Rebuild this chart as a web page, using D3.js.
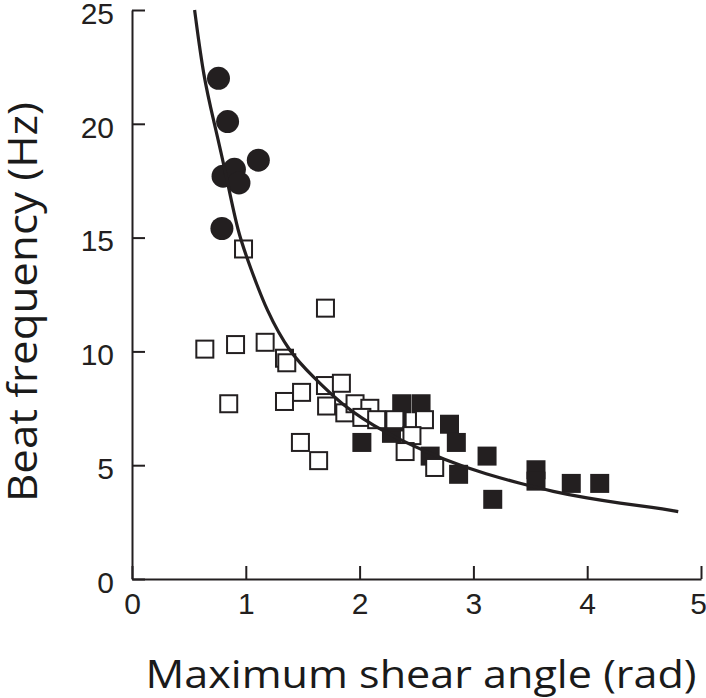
<!DOCTYPE html>
<html>
<head>
<meta charset="utf-8">
<script src="https://cdn.jsdelivr.net/npm/d3@7"></script>
<style>
  html, body { margin: 0; padding: 0; background: #fff; }
  svg { display: block; }
</style>
</head>
<body>
<script>
// values: [shear angle (rad), beat frequency (Hz)]
const filledCircles = [
    [0.76, 22.0], [0.84, 20.1], [1.11, 18.4], [0.80, 17.7],
    [0.90, 18.0], [0.94, 17.4], [0.79, 15.4]
];
const openSquares = [
    [0.98, 14.5], [1.70, 11.9], [0.64, 10.1], [0.91, 10.3], [1.17, 10.4],
    [1.34, 9.7], [1.36, 9.5], [0.85, 7.7], [1.34, 7.8], [1.49, 8.2],
    [1.48, 6.0], [1.64, 5.2], [1.70, 8.5], [1.84, 8.6], [1.71, 7.6],
    [1.87, 7.3], [1.96, 7.7], [2.09, 7.5], [2.02, 7.1], [2.15, 7.0],
    [2.31, 7.0], [2.57, 7.0], [2.46, 6.3], [2.40, 5.6], [2.66, 4.9]
];
const filledSquares = [
    [2.02, 6.0], [2.37, 7.7], [2.54, 7.7], [2.28, 6.4], [2.33, 6.9],
    [2.79, 6.8], [2.85, 6.0], [2.62, 5.4], [2.87, 4.6], [3.12, 5.4],
    [3.17, 3.5], [3.55, 4.8], [3.55, 4.3], [3.86, 4.2], [4.11, 4.2]
];
// fitted curve, points
const fitAngle = [0.55, 0.63, 0.72, 0.83, 0.93, 1.04, 1.18, 1.39, 1.59, 1.83, 2.2, 2.78, 3.12, 3.41, 3.7, 4.0, 4.29, 4.58, 4.8];
const fitFreq = [25.0, 22.0, 20.1, 17.7, 15.2, 13.7, 11.8, 9.9, 8.9, 7.7, 6.45, 5.15, 4.6, 4.2, 3.84, 3.55, 3.33, 3.15, 2.96];

const xTicks = [0, 1, 2, 3, 4, 5];
const yTicks = [0, 5, 10, 15, 20, 25];
const xTitle = "Maximum shear angle (rad)";
const yTitle = "Beat frequency (Hz)";

const width = 706;
const height = 698;
const ink = "#231f20";

const svg = d3.select("body")
    .append("svg")
    .attr("width", width)
    .attr("height", height);

const xScale = d3.scaleLinear().domain([0, 5]).range([132, 701]);
const yScale = d3.scaleLinear().domain([0, 25]).range([579, 10]);

// axes, ticks pointing inward
const xAxis = svg.append("g")
    .attr("transform", "translate(0," + yScale(0) + ")")
    .call(d3.axisBottom(xScale).tickValues(xTicks).tickFormat(d3.format("d"))
        .tickSizeInner(-13).tickSizeOuter(0).tickPadding(14));
const yAxis = svg.append("g")
    .attr("transform", "translate(" + xScale(0) + ",0)")
    .call(d3.axisLeft(yScale).tickValues(yTicks).tickFormat(d3.format("d"))
        .tickSizeInner(-13).tickSizeOuter(0).tickPadding(18));

[xAxis, yAxis].forEach(function (g) {
    g.select(".domain").attr("stroke", ink).attr("stroke-width", 2);
    g.selectAll(".tick line").attr("stroke", ink).attr("stroke-width", 2);
    g.selectAll(".tick text")
        .attr("fill", ink)
        .style("font-family", "'Liberation Sans', Arial, sans-serif")
        .style("font-size", "30px");
});
yAxis.selectAll(".tick text").attr("dy", "0.44em");
// keep the last x label inside the frame
xAxis.selectAll(".tick text").filter(function (d) { return d === 5; }).attr("x", -3);

// filled squares
const sq = 19;
svg.append("g").selectAll("rect")
    .data(filledSquares)
    .enter().append("rect")
    .attr("x", function (d) { return xScale(d[0]) - sq / 2; })
    .attr("y", function (d) { return yScale(d[1]) - sq / 2; })
    .attr("width", sq)
    .attr("height", sq)
    .attr("fill", ink);

// open squares
const osq = 17;
svg.append("g").selectAll("rect")
    .data(openSquares)
    .enter().append("rect")
    .attr("x", function (d) { return xScale(d[0]) - osq / 2; })
    .attr("y", function (d) { return yScale(d[1]) - osq / 2; })
    .attr("width", osq)
    .attr("height", osq)
    .attr("fill", "#fff")
    .attr("stroke", ink)
    .attr("stroke-width", 2);

// filled circles
svg.append("g").selectAll("circle")
    .data(filledCircles)
    .enter().append("circle")
    .attr("cx", function (d) { return xScale(d[0]); })
    .attr("cy", function (d) { return yScale(d[1]); })
    .attr("r", 11.5)
    .attr("fill", ink);

// fit line
const fitData = fitAngle.map(function (a, i) { return [a, fitFreq[i]]; });
const lineFunc = d3.line()
    .x(function (d) { return xScale(d[0]); })
    .y(function (d) { return yScale(d[1]); })
    .curve(d3.curveBasis);
svg.append("path")
    .datum(fitData)
    .attr("fill", "none")
    .attr("stroke", ink)
    .attr("stroke-width", 3.2)
    .attr("d", lineFunc);

// axis titles
svg.append("text")
    .attr("x", 421)
    .attr("y", 688)
    .attr("text-anchor", "middle")
    .attr("textLength", 551)
    .attr("lengthAdjust", "spacingAndGlyphs")
    .attr("fill", "#1a1a1a")
    .style("font-family", "'Open Sans', 'Noto Sans', sans-serif")
    .style("font-size", "38px")
    .text(xTitle);

svg.append("text")
    .attr("transform", "translate(37,302) rotate(-90)")
    .attr("text-anchor", "middle")
    .attr("textLength", 400)
    .attr("lengthAdjust", "spacingAndGlyphs")
    .attr("fill", "#1a1a1a")
    .style("font-family", "'Open Sans', 'Noto Sans', sans-serif")
    .style("font-size", "40px")
    .text(yTitle);
</script>
</body>
</html>
